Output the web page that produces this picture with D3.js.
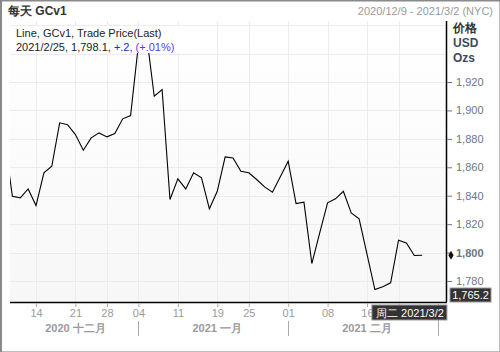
<!DOCTYPE html>
<html>
<head>
<meta charset="utf-8">
<script src="https://cdn.jsdelivr.net/npm/d3@7"></script>
<style>
  body { margin: 0; background: #fff; }
  svg { display: block; font-family: "Liberation Sans", Arial, sans-serif; }
</style>
</head>
<body>
<div id="chart"></div>
<script>
// trading sessions shown on the axis (Dec 8 is partly clipped on the left)
let sessions = [
  "2020-12-08","2020-12-09","2020-12-10","2020-12-11","2020-12-14","2020-12-15","2020-12-16","2020-12-17","2020-12-18",
  "2020-12-21","2020-12-22","2020-12-23","2020-12-24","2020-12-28","2020-12-29","2020-12-30","2020-12-31",
  "2021-01-04","2021-01-05","2021-01-06","2021-01-07","2021-01-08","2021-01-11","2021-01-12","2021-01-13","2021-01-14","2021-01-15",
  "2021-01-19","2021-01-20","2021-01-21","2021-01-22","2021-01-25","2021-01-26","2021-01-27","2021-01-28","2021-01-29",
  "2021-02-01","2021-02-02","2021-02-03","2021-02-04","2021-02-05","2021-02-08","2021-02-09","2021-02-10","2021-02-11","2021-02-12",
  "2021-02-16","2021-02-17","2021-02-18","2021-02-19","2021-02-22","2021-02-23","2021-02-24","2021-02-25","2021-02-26",
  "2021-03-01","2021-03-02"
];

// GCv1 last price, Dec 8 .. Feb 25
let prices = [
  1880, 1839.6, 1838.5, 1844.8, 1833.1, 1856.1, 1860.7, 1891.3, 1890,
  1883, 1872, 1880.7, 1884.2, 1881.4, 1883.7, 1894.1, 1896.4,
  1946.6, 1954.4, 1910, 1914.7, 1837.3, 1851.9, 1844.8, 1856.1, 1852.6, 1830.8,
  1843.1, 1867.3, 1866.6, 1857.2, 1856.1, 1851.4, 1846.2, 1842.4, 1853.3,
  1864.3, 1834.5, 1835.4, 1792.3, 1813.9, 1835, 1837.8, 1843.1, 1827.9, 1823.7,
  1798.9, 1774, 1776, 1778.7, 1808.7, 1806.8, 1797.9, 1798.1
];

// the Feb 22 label sits under the cursor box, so it is left empty
let tickDates  = ["2020-12-14","2020-12-21","2020-12-28","2021-01-04","2021-01-11","2021-01-19","2021-01-25","2021-02-01","2021-02-08","2021-02-16","2021-02-22"];
let tickLabels = ["14","21","28","04","11","19","25","01","08","16",""];

let monthStarts = ["2021-01-04","2021-02-01"];
let monthLabels = ["2020 十二月","2021 一月","2021 二月"];
let monthCenters = ["2020-12-21","2021-01-19","2021-02-16"];

let yTicks = [1780, 1800, 1820, 1840, 1860, 1880, 1900, 1920];
let yGrid  = [1780, 1800, 1820, 1840, 1860, 1880, 1900, 1920, 1940, 1960];
let lastPrice = 1798.1;
let cursorDate = "2021-03-01";
let cursorValue = 1765.2;

let w = 500;
let h = 352;
let plot = {left: 10, right: 446, top: 21, bottom: 302};

let svg = d3.select("#chart")
  .append("svg")
    .attr("width", w)
    .attr("height", h)
;

// outer frame
svg.append("rect")
  .attr("x", 0.5).attr("y", 0.5)
  .attr("width", w - 1).attr("height", h - 1)
  .attr("fill", "#fff")
  .attr("stroke", "#bdbdbd")
;
svg.append("line")
  .attr("x1", 0).attr("x2", w).attr("y1", 0.5).attr("y2", 0.5)
  .attr("stroke", "#8a8a8a").attr("stroke-width", 2)
;
svg.append("line")
  .attr("x1", 1).attr("x2", 1).attr("y1", 0).attr("y2", h)
  .attr("stroke", "#8a8a8a").attr("stroke-width", 2)
;

// header
svg.append("text")
  .attr("x", 8).attr("y", 15)
  .style("font-size", "12px").style("font-weight", "bold")
  .style("fill", "#333")
  .text("每天 GCv1")
;
svg.append("text")
  .attr("x", 493).attr("y", 15)
  .attr("text-anchor", "end")
  .style("font-size", "11px")
  .style("fill", "#9a9a9a")
  .text("2020/12/9 - 2021/3/2 (NYC)")
;

let x = d3.scalePoint()
  .domain(sessions)
  .range([4.5, 445.8])
;
let y = d3.scaleLinear()
  .domain([1780, 1920])
  .range([281, 82])
;

// plot background
let grad = svg.append("defs").append("linearGradient")
  .attr("id", "bg").attr("x1", 0).attr("x2", 0).attr("y1", 0).attr("y2", 1);
grad.append("stop").attr("offset", "0%").attr("stop-color", "#ffffff");
grad.append("stop").attr("offset", "100%").attr("stop-color", "#f7f7f7");

svg.select("defs").append("clipPath").attr("id", "clip")
  .append("rect")
    .attr("x", plot.left).attr("y", plot.top)
    .attr("width", plot.right - plot.left).attr("height", plot.bottom - plot.top)
;

svg.append("rect")
  .attr("x", plot.left).attr("y", plot.top)
  .attr("width", plot.right - plot.left).attr("height", plot.bottom - plot.top)
  .attr("fill", "url(#bg)")
;

let grid = svg.append("g").attr("clip-path", "url(#clip)");
grid.selectAll(".vg").data(tickDates).enter()
  .append("line")
    .attr("x1", d => Math.round(x(d)) + 0.5).attr("x2", d => Math.round(x(d)) + 0.5)
    .attr("y1", plot.top).attr("y2", plot.bottom)
    .attr("stroke", "#ececec")
;
grid.selectAll(".hg").data(yGrid).enter()
  .append("line")
    .attr("x1", plot.left).attr("x2", plot.right)
    .attr("y1", d => Math.round(y(d)) + 0.5).attr("y2", d => Math.round(y(d)) + 0.5)
    .attr("stroke", "#ececec")
;

// price line
svg.append("path")
  .datum(prices)
  .attr("clip-path", "url(#clip)")
  .attr("fill", "none")
  .attr("stroke", "#000")
  .attr("stroke-width", 1.1)
  .attr("d", d3.line()
    .x((d, i) => x(sessions[i]))
    .y(d => y(d))
  )
;

// axis lines
svg.append("line")
  .attr("x1", plot.left).attr("x2", plot.right + 1)
  .attr("y1", plot.bottom + 0.5).attr("y2", plot.bottom + 0.5)
  .attr("stroke", "#000").attr("stroke-width", 1.5)
;
svg.append("line")
  .attr("x1", plot.right + 0.5).attr("x2", plot.right + 0.5)
  .attr("y1", plot.top).attr("y2", plot.bottom)
  .attr("stroke", "#000").attr("stroke-width", 1.5)
;

// legend
let legend = svg.append("g");
legend.append("rect")
  .attr("x", 14).attr("y", 26).attr("width", 172).attr("height", 27)
  .attr("fill", "#fff")
;
legend.append("text")
  .attr("x", 16).attr("y", 37)
  .style("font-size", "11px").style("fill", "#222")
  .text("Line, GCv1, Trade Price(Last)")
;
let l2 = legend.append("text")
  .attr("x", 16).attr("y", 51)
  .style("font-size", "11px").style("fill", "#222")
;
l2.append("tspan").text("2021/2/25, 1,798.1, ");
l2.append("tspan").style("fill", "#2323d8").text("+.2, ");
l2.append("tspan").style("fill", "#5a3cf0").text("(+.01%)");

// y axis
let yAxis = svg.append("g")
  .attr("transform", `translate(${plot.right + 1},0)`)
  .call(d3.axisRight(y).tickValues(yTicks).tickSize(5).tickPadding(4)
    .tickFormat(d3.format(",")))
;
yAxis.select(".domain").remove();
yAxis.selectAll("line").attr("stroke", "#6b7785");
yAxis.selectAll("text")
  .style("font-size", "11px")
  .style("font-family", "Liberation Sans, Arial, sans-serif")
  .style("fill", "#6b7785")
  .style("font-weight", d => d === 1800 ? "bold" : "normal")
;

svg.append("path")
  .attr("d", d3.symbol().type(d3.symbolDiamond).size(24)())
  .attr("transform", `translate(${plot.right + 5},${y(lastPrice)})`)
  .attr("fill", "#111")
;

let unitLabels = ["价格", "USD", "Ozs"];
svg.selectAll(".unit").data(unitLabels).enter()
  .append("text")
    .attr("x", 453)
    .attr("y", (d, i) => 32 + i * 15)
    .style("font-size", "12px").style("font-weight", "bold")
    .style("fill", (d, i) => i === 0 ? "#333" : "#3d4a5c")
    .text(d => d)
;

// x axis
let xAxis = svg.append("g")
  .attr("transform", `translate(0,${plot.bottom + 1})`)
  .call(d3.axisBottom(x).tickValues(tickDates).tickSize(4).tickPadding(2)
    .tickFormat((d, i) => tickLabels[i]))
;
xAxis.select(".domain").remove();
xAxis.selectAll("line").attr("stroke", "#aaa");
xAxis.selectAll("text")
  .style("font-size", "11px")
  .style("font-family", "Liberation Sans, Arial, sans-serif")
  .style("fill", "#9a9a9a")
;

svg.selectAll(".msep").data(monthStarts).enter()
  .append("line")
    .attr("x1", d => Math.round(x(d)) + 0.5).attr("x2", d => Math.round(x(d)) + 0.5)
    .attr("y1", 321).attr("y2", 336)
    .attr("stroke", "#aaa")
;
svg.selectAll(".mlab").data(monthLabels).enter()
  .append("text")
    .attr("x", (d, i) => x(monthCenters[i]))
    .attr("y", 332)
    .attr("text-anchor", "middle")
    .style("font-size", "11px").style("font-weight", "bold")
    .style("fill", "#9a9a9a")
    .text(d => d)
;

// cursor
svg.append("line")
  .attr("x1", Math.round(x(cursorDate)) + 0.5).attr("x2", Math.round(x(cursorDate)) + 0.5)
  .attr("y1", plot.bottom + 2).attr("y2", 336)
  .attr("stroke", "#aaa")
;
let cx = x(cursorDate);
svg.append("rect")
  .attr("x", cx - 66).attr("y", 305).attr("width", 75).attr("height", 15)
  .attr("fill", "#333").attr("stroke", "#999")
;
svg.append("text")
  .attr("x", cx + 6).attr("y", 317)
  .attr("text-anchor", "end")
  .style("font-size", "11px").style("fill", "#fff")
  .text("周二 2021/3/2")
;
svg.append("rect")
  .attr("x", 450).attr("y", 288).attr("width", 41).attr("height", 14)
  .attr("fill", "#333").attr("stroke", "#999")
;
svg.append("text")
  .attr("x", 470.5).attr("y", 299)
  .attr("text-anchor", "middle")
  .style("font-size", "11px").style("fill", "#fff")
  .text(d3.format(",.1f")(cursorValue))
;
</script>
</body>
</html>
